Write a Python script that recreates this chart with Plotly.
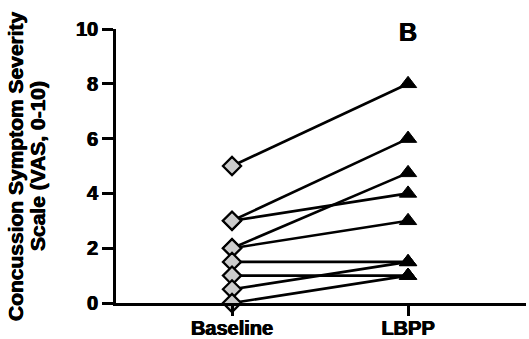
import plotly.graph_objects as go

groups = ["Baseline", "LBPP"]
baseline = [5, 3, 3, 2, 2, 1.5, 1, 0.5, 0]
lbpp = [8, 6, 4, 4.75, 3, 1.5, 1, 1.5, 1]
y_ticks = [0, 2, 4, 6, 8, 10]
y_title_lines = ["Concussion Symptom Severity", "Scale (VAS, 0-10)"]

FONT = "Liberation Sans, Arial, sans-serif"
SHADOW = "0.5px 0 0 black, -0.5px 0 0 black"
fig = go.Figure()

for b, l in zip(baseline, lbpp):
    fig.add_trace(go.Scatter(
        x=[0, 1], y=[b, l], mode="lines",
        line=dict(color="black", width=2.6),
        showlegend=False, hoverinfo="skip", cliponaxis=False))

fig.add_trace(go.Scatter(
    x=[0] * len(baseline), y=baseline, mode="markers",
    marker=dict(symbol="diamond", size=14, color="#cccccc",
                line=dict(color="black", width=2.2)),
    showlegend=False, cliponaxis=False))
fig.add_trace(go.Scatter(
    x=[1] * len(lbpp), y=lbpp, mode="markers",
    marker=dict(symbol="triangle-up", size=15, color="black",
                line=dict(color="black", width=1)),
    showlegend=False, cliponaxis=False))

annotations = []
for line, shift in zip(y_title_lines, [-101, -79]):
    annotations.append(dict(
        text=f"<b>{line}</b>", xref="paper", yref="paper", x=0, y=0.5,
        xshift=shift, xanchor="center", yanchor="middle", textangle=-90,
        showarrow=False,
        font=dict(family=FONT, size=21, color="black", shadow=SHADOW)))
annotations.append(dict(
    text="<b>B</b>", xref="x", yref="paper", x=1, y=0.99,
    xanchor="center", yanchor="middle", showarrow=False,
    font=dict(family=FONT, size=25, color="black", shadow=SHADOW)))

fig.update_layout(
    width=529, height=339,
    margin=dict(l=116, r=3, t=29, b=36),
    plot_bgcolor="white", paper_bgcolor="white",
    font=dict(family=FONT, color="black"),
    xaxis=dict(range=[-0.659, 1.67], tickvals=[0, 1],
               ticktext=[f"<b>{g}</b>" for g in groups],
               automargin=False,
               showgrid=False, zeroline=False, showline=True,
               linecolor="black", linewidth=2.6, ticks="outside",
               ticklen=10, tickwidth=2.6, tickcolor="black",
               ticklabelstandoff=-5,
               tickfont=dict(family=FONT, size=20, color="black", shadow=SHADOW)),
    yaxis=dict(range=[0, 10], tickvals=y_ticks,
               ticktext=[f"<b>{t}</b>" for t in y_ticks],
               automargin=False,
               showgrid=False, zeroline=False, showline=True,
               linecolor="black", linewidth=2.6, ticks="outside",
               ticklen=11, tickwidth=2.6, tickcolor="black",
               ticklabelstandoff=0,
               tickfont=dict(family=FONT, size=20, color="black", shadow=SHADOW)),
    annotations=annotations,
)

# remove the browser's default 8px body margin so the figure fills the window
fig.write_html("out.html", config={"displayModeBar": False},
               post_script="document.body.style.margin='0';")
